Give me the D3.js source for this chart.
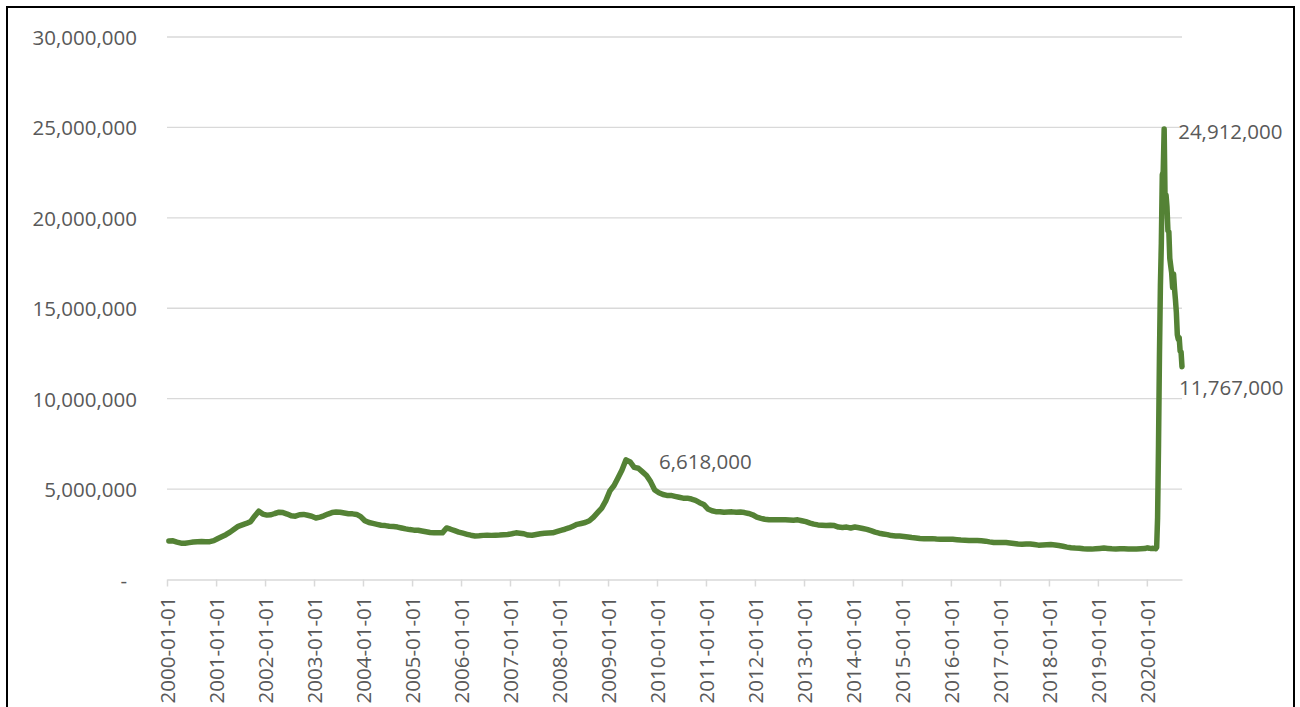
<!DOCTYPE html>
<html>
<head>
<meta charset="utf-8">
<script src="https://cdn.jsdelivr.net/npm/d3@7"></script>
<style>
  html, body { margin: 0; padding: 0; background: #fff; }
  svg { display: block; }
  text { font-family: "Open Sans", "Liberation Sans", sans-serif; fill: #595959; }
</style>
</head>
<body>
<svg id="chart" width="1300" height="707"></svg>
<script>
// Continued unemployment claims (seasonally adjusted), in thousands.
// Monthly levels, Jan 2000 – Dec 2019 (one row per year).
const monthlyClaims = [
  2130, 2140, 2070, 2010, 2010, 2040, 2070, 2090, 2100, 2090, 2090, 2150, // 2000
  2270, 2380, 2480, 2620, 2780, 2940, 3020, 3100, 3200, 3500, 3780, 3620, // 2001
  3560, 3580, 3650, 3720, 3700, 3620, 3520, 3500, 3580, 3600, 3550, 3500, // 2002
  3400, 3450, 3520, 3620, 3700, 3730, 3720, 3680, 3640, 3630, 3600, 3480, // 2003
  3250, 3150, 3100, 3050, 3000, 2980, 2950, 2930, 2900, 2850, 2800, 2760, // 2004
  2730, 2720, 2680, 2640, 2600, 2580, 2580, 2580, 2850, 2780, 2700, 2620, // 2005
  2560, 2500, 2450, 2410, 2420, 2440, 2450, 2440, 2450, 2460, 2480, 2490, // 2006
  2530, 2580, 2560, 2530, 2460, 2450, 2490, 2530, 2560, 2570, 2580, 2650, // 2007
  2720, 2780, 2850, 2950, 3050, 3100, 3150, 3250, 3450, 3700, 3950, 4350, // 2008
  4900, 5200, 5600, 6050, 6618, 6500, 6200, 6150, 5950, 5750, 5400, 4950, // 2009
  4800, 4700, 4650, 4650, 4600, 4550, 4500, 4500, 4450, 4380, 4250, 4150, // 2010
  3900, 3800, 3750, 3750, 3720, 3730, 3740, 3720, 3730, 3700, 3650, 3580, // 2011
  3450, 3380, 3330, 3300, 3300, 3300, 3300, 3300, 3290, 3280, 3300, 3250, // 2012
  3200, 3120, 3060, 3020, 3000, 2980, 3000, 2980, 2900, 2880, 2900, 2850, // 2013
  2900, 2860, 2820, 2770, 2700, 2620, 2560, 2520, 2480, 2430, 2410, 2400, // 2014
  2380, 2350, 2320, 2300, 2270, 2260, 2260, 2260, 2240, 2230, 2220, 2230, // 2015
  2220, 2200, 2180, 2170, 2160, 2160, 2150, 2140, 2120, 2080, 2050, 2050, // 2016
  2050, 2040, 2020, 1990, 1960, 1950, 1960, 1960, 1930, 1900, 1910, 1920, // 2017
  1930, 1910, 1880, 1840, 1790, 1760, 1740, 1730, 1700, 1690, 1680, 1700, // 2018
  1720, 1740, 1720, 1700, 1690, 1700, 1700, 1690, 1680, 1690, 1700, 1710  // 2019
];
const monthlyStart = "2000-01-15";

// Weekly levels for 2020, weeks ending Saturday from Jan 4 to Sep 19.
const weeklyStart2020 = "2020-01-04";
const weeklyClaims2020 = [
  1750, 1740, 1730, 1720, 1710, 1720, 1730, 1710, 1720, 1700, 1780,
  3410, 7450, 12440, 16250, 18600, 22380, 22550, 24912, 20840, 21270,
  20610, 19290, 19230, 17760, 17340, 16950, 16150, 16900, 16090, 15480,
  14760, 13540, 13290, 13380, 12630, 12580, 11767
];

// Axis settings
const yTicks = [0, 5e6, 10e6, 15e6, 20e6, 25e6, 30e6];
const xTickYears = d3.range(2000, 2021);
const axisStart = "2000-01-01";
const axisEnd = "2020-09-19";

// Build the dated series
const parse = d3.timeParse("%Y-%m-%d");
const mStart = parse(monthlyStart);
const wStart = parse(weeklyStart2020);
const series = [
  ...monthlyClaims.map((v, i) => ({ date: d3.timeMonth.offset(mStart, i), value: v * 1000 })),
  ...weeklyClaims2020.map((v, i) => ({ date: d3.timeDay.offset(wStart, 7 * i), value: v * 1000 }))
];

const svg = d3.select("#chart");
const margin = { left: 167, right: 118, top: 37, bottom: 128 };
const W = 1300, H = 707;

const x = d3.scaleTime()
  .domain([parse(axisStart), parse(axisEnd)])
  .range([margin.left, W - margin.right]);
const y = d3.scaleLinear()
  .domain([0, 30e6])
  .range([H - margin.bottom + 0.5, margin.top]);

// Outer chart frame
svg.append("rect")
  .attr("x", 7).attr("y", 7)
  .attr("width", 1287).attr("height", 760)
  .attr("fill", "none").attr("stroke", "#000").attr("stroke-width", 2);

// Horizontal gridlines
svg.append("g")
  .selectAll("line")
  .data(yTicks.filter(d => d > 0))
  .join("line")
  .attr("x1", x.range()[0]).attr("x2", x.range()[1])
  .attr("y1", d => y(d)).attr("y2", d => y(d))
  .attr("stroke", "#d9d9d9").attr("stroke-width", 1.3);

// Y axis labels
const fmt = d3.format(",");
svg.append("g")
  .selectAll("text")
  .data(yTicks)
  .join("text")
  .attr("x", d => d === 0 ? 127 : 137)
  .attr("y", d => y(d))
  .attr("text-anchor", "end")
  .attr("dominant-baseline", "central")
  .style("font-size", "20.5px")
  .text(d => d === 0 ? "-" : fmt(d));

// X axis: baseline, year ticks and rotated date labels
const xAxis = d3.axisBottom(x)
  .tickValues(xTickYears.map(yr => new Date(yr, 0, 1)))
  .tickFormat(d3.timeFormat("%Y-%m-%d"))
  .tickSize(7)
  .tickSizeOuter(0);
const gx = svg.append("g")
  .attr("transform", `translate(0,${y(0)})`)
  .call(xAxis);
gx.select(".domain").attr("stroke", "#d9d9d9").attr("stroke-width", 1.5);
gx.selectAll(".tick line").attr("stroke", "#d9d9d9").attr("stroke-width", 1.5);
gx.selectAll(".tick text")
  .attr("transform", "rotate(-90)")
  .attr("text-anchor", "end")
  .attr("x", -17)
  .attr("y", 0)
  .attr("dy", "0.35em")
  .attr("fill", "#595959")
  .style("font-size", "20.5px")
  .style("font-family", "'Open Sans', 'Liberation Sans', sans-serif");

// Claims line
const line = d3.line()
  .x(d => x(d.date))
  .y(d => y(d.value))
  .curve(d3.curveLinear);
svg.append("path")
  .datum(series)
  .attr("d", line)
  .attr("fill", "none")
  .attr("stroke", "#548235")
  .attr("stroke-width", 5.5)
  .attr("stroke-linejoin", "round")
  .attr("stroke-linecap", "round");

// Value labels on the 2009 peak, the 2020 peak and the latest week
const peak2009 = d3.greatest(series.filter(d => d.date.getFullYear() < 2015), d => d.value);
const peak2020 = d3.greatest(series, d => d.value);
const latest = series[series.length - 1];
const callouts = [
  { d: peak2009, dx: 33, dy: 1 },
  { d: peak2020, dx: 14, dy: 2 },
  { d: latest, dx: -3, dy: 20 }
];
svg.append("g")
  .selectAll("text")
  .data(callouts)
  .join("text")
  .attr("x", c => x(c.d.date) + c.dx)
  .attr("y", c => y(c.d.value) + c.dy)
  .attr("dominant-baseline", "central")
  .style("font-size", "20.5px")
  .text(c => fmt(c.d.value));
</script>
</body>
</html>
